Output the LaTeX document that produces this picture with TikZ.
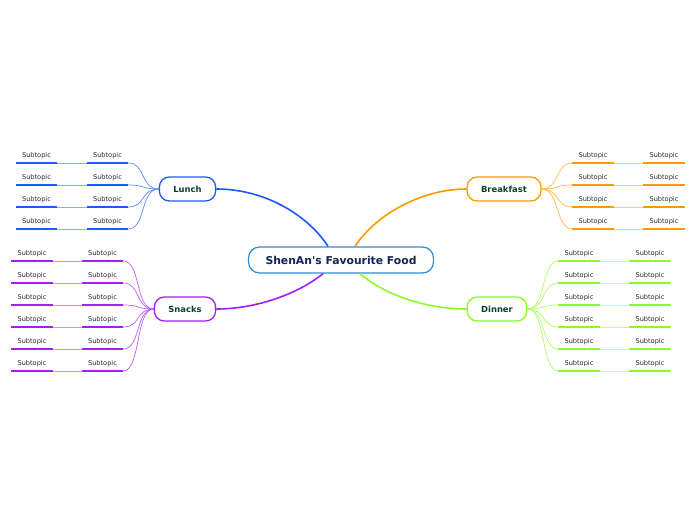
\documentclass[tikz,border=0pt]{standalone}
\usepackage{fontspec}
\setmainfont{DejaVu Sans}
\definecolor{lunchc}{RGB}{28,88,255}
\definecolor{breakc}{RGB}{255,153,0}
\definecolor{snackc}{RGB}{162,30,245}
\definecolor{dinnc}{RGB}{140,250,40}
\definecolor{centc}{RGB}{45,140,215}
\definecolor{centt}{RGB}{18,38,80}
\definecolor{brt}{RGB}{14,62,50}
\definecolor{subt}{RGB}{40,40,40}
\tikzset{
  central/.style={draw=centc, line width=1.2pt, fill=white, rounded corners=11pt,
    inner xsep=17pt, minimum height=26pt, font=\fontsize{10.8}{12}\selectfont\bfseries, text=centt},
  branch/.style={draw=#1, line width=1.3pt, fill=white, rounded corners=10pt,
    inner xsep=14pt, minimum height=24pt, font=\fontsize{8.4}{10}\selectfont\bfseries, text=brt},
  subnode/.style={inner sep=0pt, minimum width=41pt, text height=5pt, text depth=5.3pt,
    anchor=south, font=\fontsize{6.6}{8}\selectfont, text=subt},
  uline/.style={draw=#1, line width=1.8pt},
  linkline/.style={draw=#1!50, line width=0.8pt},
  twig/.style={draw=#1!70, line width=0.7pt},
  mainline/.style={draw=#1, line width=1.6pt}
}
\begin{document}
\begin{tikzpicture}[x=1pt,y=-1pt]
\useasboundingbox (0,0) rectangle (696,520);
\node[central] (C) at (341,260) {ShenAn\textquotesingle s Favourite Food};
\node[branch=lunchc] (L) at (187.5,189) {Lunch};
\node[branch=breakc] (B) at (504,189) {Breakfast};
\node[branch=snackc] (S) at (185,309) {Snacks};
\node[branch=dinnc] (D) at (497,309) {Dinner};

% main connectors
\draw[mainline=lunchc] ([xshift=-13pt]C.north) .. controls (310,218) and (268,189) .. (L.east);
\draw[mainline=breakc] ([xshift=14pt]C.north) .. controls (373,218) and (418,189) .. (B.west);
\draw[mainline=snackc] ([xshift=-18pt]C.south) .. controls (298,294) and (256,309) .. (S.east);
\draw[mainline=dinnc] ([xshift=19pt]C.south) .. controls (386,296) and (428,309) .. (D.west);

% Lunch subtopics
\foreach \i/\y in {1/163,2/185,3/207,4/229}{
  \node[subnode] (La\i) at (36.5,\y) {Subtopic};
  \node[subnode] (Lb\i) at (107.5,\y) {Subtopic};
  \draw[uline=lunchc] (La\i.south west) -- (La\i.south east);
  \draw[uline=lunchc] (Lb\i.south west) -- (Lb\i.south east);
  \draw[linkline=lunchc] (La\i.south east) -- (Lb\i.south west);
  \draw[twig=lunchc] (Lb\i.south east) .. controls (146,\y) and (140,189) .. (L.west);
}
% Breakfast subtopics
\foreach \i/\y in {1/163,2/185,3/207,4/229}{
  \node[subnode] (Ba\i) at (593,\y) {Subtopic};
  \node[subnode] (Bb\i) at (664,\y) {Subtopic};
  \draw[uline=breakc] (Ba\i.south west) -- (Ba\i.south east);
  \draw[uline=breakc] (Bb\i.south west) -- (Bb\i.south east);
  \draw[linkline=breakc] (Ba\i.south east) -- (Bb\i.south west);
  \draw[twig=breakc] (Ba\i.south west) .. controls (555,\y) and (560,189) .. (B.east);
}
% Snacks subtopics
\foreach \i/\y in {1/261,2/283,3/305,4/327,5/349,6/371}{
  \node[subnode] (Sa\i) at (32,\y) {Subtopic};
  \node[subnode] (Sb\i) at (102.5,\y) {Subtopic};
  \draw[uline=snackc] (Sa\i.south west) -- (Sa\i.south east);
  \draw[uline=snackc] (Sb\i.south west) -- (Sb\i.south east);
  \draw[linkline=snackc] (Sa\i.south east) -- (Sb\i.south west);
  \draw[twig=snackc] (Sb\i.south east) .. controls (141,\y) and (135,309) .. (S.west);
}
% Dinner subtopics
\foreach \i/\y in {1/261,2/283,3/305,4/327,5/349,6/371}{
  \node[subnode] (Da\i) at (579,\y) {Subtopic};
  \node[subnode] (Db\i) at (650,\y) {Subtopic};
  \draw[uline=dinnc] (Da\i.south west) -- (Da\i.south east);
  \draw[uline=dinnc] (Db\i.south west) -- (Db\i.south east);
  \draw[linkline=dinnc] (Da\i.south east) -- (Db\i.south west);
  \draw[twig=dinnc] (Da\i.south west) .. controls (541,\y) and (546,309) .. (D.east);
}
\end{tikzpicture}
\end{document}
